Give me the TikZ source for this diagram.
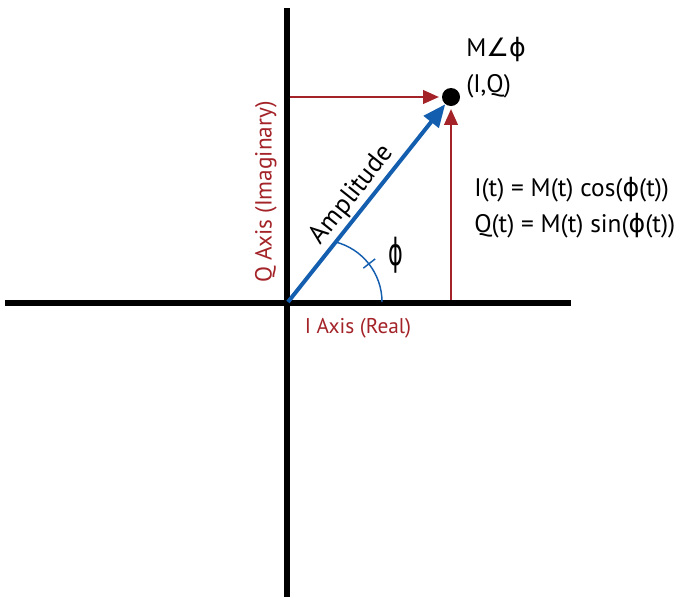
\documentclass[tikz,border=0pt]{standalone}
\usepackage{fontspec}
\setmainfont{PT Sans}
\newfontfamily\symfont{DejaVu Sans}
\usetikzlibrary{arrows.meta}
\definecolor{iqred}{RGB}{163,35,40}
\definecolor{iqblue}{RGB}{20,94,176}
\newcommand{\ph}{{\symfont ϕ}}

\begin{document}
\begin{tikzpicture}[x=0.75pt,y=-0.75pt,
  axis/.style={line width=4.2pt},
  comp/.style={iqred, line width=2.2pt, -{Triangle[length=12pt,width=10pt]}},
  amp/.style={iqblue, line width=3pt, -{Triangle[length=17pt,width=14pt]}},
  lbl/.style={font=\fontsize{19}{23}\selectfont, inner sep=0pt}]
  \useasboundingbox (0,0) rectangle (680,597);
  % axes
  \coordinate (west) at (5,303);
  \coordinate (east) at (571,303);
  \coordinate (north) at (287,8);
  \coordinate (south) at (287,597);
  \draw[axis] (west) -- (east);
  \draw[axis] (north) -- (south);
  \coordinate (O) at (288,302);
  \node[circle, fill, minimum size=13.5pt, inner sep=0pt] (P) at (451,97) {};
  \coordinate (qfoot) at (290,97);
  \coordinate (ifoot) at (451,300);
  \draw[comp, shorten >=2pt] (qfoot) -- (P);
  \draw[comp, shorten >=2pt] (ifoot) -- (P);
  \draw[amp] (O) -- (P);
  % angle
  \coordinate (C) at (320,302);
  \draw[iqblue, line width=1.1pt] (382,302) arc[start angle=0, end angle=-76, radius=62];
  \draw[iqblue, line width=1.1pt] (C) ++(-38:55) -- ++(-38:15);
  \node[lbl, font=\fontsize{28}{30}\selectfont, xscale=0.6] (phi) at (396,255) {\ph};
  % labels
  \path (O) -- (P) node[pos=0.49, sloped, above=3pt, lbl, font=\fontsize{20}{24}\selectfont] (amplbl) {Amplitude};
  \node[lbl, anchor=west] (mag) at (466,50) {M{\symfont ∠}\ph};
  \node[lbl, anchor=west] (iq) at (466,86) {(I,Q)};
  \node[lbl, anchor=west] (eqI) at (474,190) {I(t) = M(t) cos(\ph(t))};
  \node[lbl, anchor=west] (eqQ) at (474,226) {Q(t) = M(t) sin(\ph(t))};
  \node[lbl, iqred, font=\fontsize{16}{19}\selectfont] (ilbl) at (358,328) {I Axis (Real)};
  \node[lbl, iqred, rotate=90, font=\fontsize{17.5}{21}\selectfont] (qlbl) at (266,192) {Q Axis (Imaginary)};
\end{tikzpicture}
\end{document}
